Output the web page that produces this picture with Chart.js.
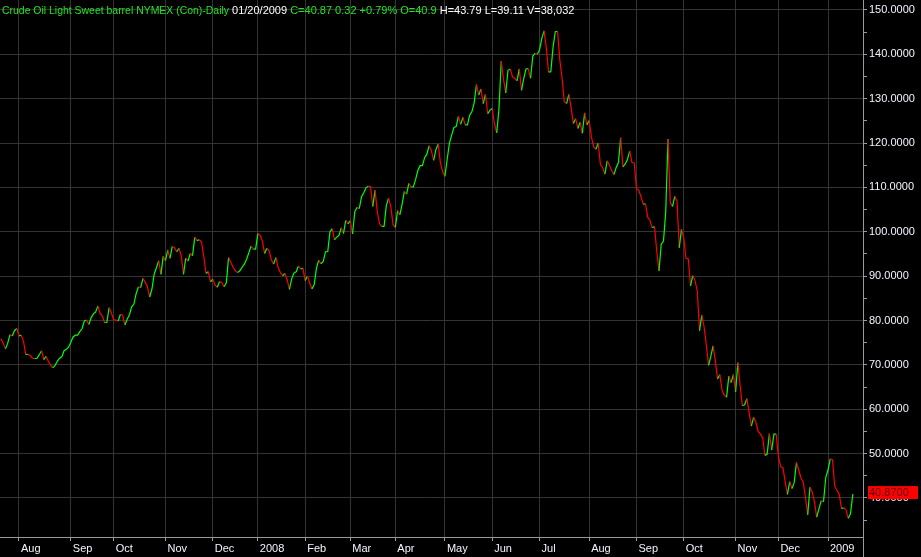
<!DOCTYPE html>
<html>
<head>
<meta charset="utf-8">
<script src="https://cdn.jsdelivr.net/npm/chart.js@4/dist/chart.umd.min.js"></script>
<style>
  html, body { margin: 0; padding: 0; background: #000; }
  #wrap { width: 921px; height: 557px; }
</style>
</head>
<body>
<div id="wrap"><canvas id="oilChart"></canvas></div>
<script>
// 月ごとの終値（取引日ごと）
const jul07 = [75.9, 74.9, 73.6, 74.9, 76.8, 76.5, 77.7, 78.2];
const aug07 = [76.5, 76.7, 75.3, 72.3, 72.4, 72.1, 71.5, 71.4, 71.5, 72.3, 73.2, 71.2, 71.9, 70.8, 70.0, 69.3, 69.9, 70.8, 71.5, 71.8, 73.2, 73.5, 74.0];
const sep07 = [75.1, 76.3, 76.7, 76.7, 77.5, 78.2, 79.9, 80.1, 79.1, 80.6, 81.5, 81.9, 83.3, 81.6, 81.0, 79.5, 79.6, 82.9, 81.7];
const oct07 = [80.2, 80.1, 79.9, 81.4, 81.2, 79.0, 80.3, 81.3, 83.1, 83.7, 86.1, 87.6, 87.4, 89.5, 88.6, 87.6, 85.3, 87.1, 90.5, 91.9, 93.5, 90.4, 94.5];
const nov07 = [93.5, 95.9, 94.0, 96.7, 96.4, 95.5, 96.3, 94.6, 90.4, 94.1, 93.4, 95.1, 94.6, 98.8, 98.0, 98.2, 97.7, 94.4, 90.6, 91.0, 88.7];
const dec07 = [89.3, 88.0, 87.5, 88.8, 88.5, 87.6, 88.5, 94.2, 93.1, 92.0, 91.2, 90.8, 91.2, 92.0, 92.7, 93.8, 95.3, 96.8, 96.1, 96.1];
const jan08 = [99.6, 99.2, 97.9, 95.1, 96.3, 95.7, 93.7, 92.7, 94.2, 91.9, 90.8, 90.1, 90.6, 89.2, 87.0, 89.4, 90.7, 91.0, 92.3, 91.6, 91.8];
const feb08 = [89.0, 90.0, 88.4, 87.1, 88.1, 91.8, 93.6, 92.8, 93.3, 95.5, 95.5, 100.0, 100.7, 98.2, 98.8, 99.2, 100.9, 99.6, 102.6, 101.8];
const mar08 = [102.5, 99.5, 104.5, 105.5, 105.2, 107.9, 108.8, 109.9, 110.3, 110.2, 105.7, 109.4, 104.5, 101.8, 101.2, 101.2, 105.9, 107.6, 105.6, 101.6];
const apr08 = [101.0, 104.8, 103.8, 106.2, 109.1, 108.5, 110.9, 110.1, 110.1, 111.8, 113.8, 114.9, 114.9, 116.7, 117.5, 119.4, 118.3, 116.1, 118.5, 119.8, 115.6, 113.5];
const may08 = [112.5, 116.3, 120.0, 121.8, 123.5, 123.7, 126.0, 124.2, 125.8, 124.1, 124.1, 126.3, 127.1, 129.1, 133.2, 130.8, 132.2, 128.9, 131.0, 126.6, 127.4];
const jun08 = [127.8, 124.3, 122.3, 127.8, 138.5, 134.4, 131.3, 136.4, 136.7, 134.9, 134.6, 134.0, 136.7, 131.9, 134.6, 136.7, 136.8, 134.6, 139.6, 140.2, 140.0];
const jul08 = [141.0, 143.6, 145.3, 141.4, 136.0, 136.1, 141.7, 145.1, 145.2, 138.7, 134.6, 129.3, 128.9, 131.0, 128.0, 124.4, 125.5, 123.3, 124.7, 122.2, 126.8, 124.1];
const aug08 = [125.1, 121.4, 119.2, 118.6, 120.0, 115.2, 114.5, 113.0, 116.0, 115.0, 113.8, 112.9, 114.5, 115.6, 121.2, 114.6, 115.3, 116.3, 118.2, 115.6, 115.5];
const sep08 = [109.7, 109.4, 107.9, 106.2, 106.3, 103.3, 102.6, 100.9, 101.2, 95.7, 91.2, 97.2, 97.9, 104.6, 120.9, 106.6, 105.7, 108.0, 106.9, 96.4, 100.6];
const oct08 = [98.5, 94.0, 93.9, 87.8, 90.1, 89.0, 86.6, 77.7, 81.2, 78.6, 74.5, 69.9, 71.9, 74.3, 70.9, 66.8, 67.8, 64.2, 63.2, 62.7, 67.5, 66.0, 67.8];
const nov08 = [63.9, 70.5, 65.3, 60.8, 61.0, 62.4, 59.3, 56.2, 58.2, 57.0, 55.0, 54.4, 53.6, 49.6, 49.9, 54.5, 50.8, 54.4, 54.4];
const dec08 = [49.3, 47.0, 46.8, 43.7, 40.8, 43.7, 42.1, 43.5, 48.0, 46.3, 44.5, 43.6, 40.1, 36.2, 42.4, 41.3, 39.1, 35.7, 37.6, 39.4, 39.1, 44.6];
const jan09 = [46.3, 48.8, 48.6, 42.6, 41.7, 40.8, 37.6, 37.8, 37.3, 35.4, 36.5, 40.87];

// 月のラベル（最初の7月は途中からなので表示しない）
const monthLabels = ['', 'Aug', 'Sep', 'Oct', 'Nov', 'Dec', '2008', 'Feb', 'Mar', 'Apr', 'May', 'Jun', 'Jul', 'Aug', 'Sep', 'Oct', 'Nov', 'Dec', '2009'];
const monthCloses = [jul07, aug07, sep07, oct07, nov07, dec07, jan08, feb08, mar08, apr08, may08, jun08, jul08, aug08, sep08, oct08, nov08, dec08, jan09];

// 右軸の目盛り
const yTicks = [35, 40, 45, 50, 55, 60, 65, 70, 75, 80, 85, 90, 95, 100, 105, 110, 115, 120, 125, 130, 135, 140, 145, 150];

// タイトル（色分け）
const titleParts = [
    ['Crude Oil Light Sweet barrel NYMEX (Con)-Daily', '#1ee81e'],
    [' 01/20/2009', '#ffffff'],
    [' C=40.87 0.32 +0.79% O=40.9', '#1ee81e'],
    [' H=43.79 L=39.11 V=38,032', '#ffffff']
];

const upColor = '#00ff00';
const downColor = '#ff0000';
const gridColor = '#343434';
const axisColor = '#9a9a9a';
const fontFamily = '"Liberation Sans", Arial, sans-serif';

// データを取引日の番号に並べる
const points = [];
const monthStarts = [];
const tickLabels = [];
monthCloses.forEach((arr, m) => {
    if (m > 0) {
        monthStarts.push(points.length);
        tickLabels.push(monthLabels[m]);
    }
    arr.forEach(v => points.push({ x: points.length, y: v }));
});
const lastClose = points[points.length - 1].y;

// タイトルと最終値のボックス
const overlay = {
    id: 'overlay',
    afterDraw(chart) {
        const ctx = chart.ctx;
        const area = chart.chartArea;
        ctx.save();
        ctx.strokeStyle = axisColor;
        ctx.lineWidth = 1;
        ctx.beginPath();
        ctx.moveTo(Math.round(area.right) + 0.5, area.bottom);
        ctx.lineTo(Math.round(area.right) + 0.5, chart.height);
        ctx.stroke();

        const py = chart.scales.y.getPixelForValue(lastClose);
        ctx.fillStyle = '#ff0000';
        ctx.fillRect(area.right + 5, py - 8, 50, 13);
        ctx.font = '11px ' + fontFamily;
        ctx.fillStyle = '#5a0000';
        ctx.textBaseline = 'middle';
        ctx.fillText(lastClose.toFixed(4), area.right + 6, py - 1.5);

        // 最初の部分は元の字幅に合わせて少し詰める
        ctx.textBaseline = 'alphabetic';
        let x = 2;
        titleParts.forEach(([text, color], i) => {
            const w = ctx.measureText(text).width;
            const fit = i === 0 ? Math.min(w, 227) : w;
            ctx.fillStyle = color;
            ctx.fillText(text, x, 14, fit);
            x += fit;
        });
        ctx.restore();
    }
};

const config = {
    type: 'line',
    data: {
        datasets: [{
            data: points,
            borderColor: upColor,
            borderWidth: 1.2,
            pointRadius: 0,
            tension: 0,
            segment: {
                borderColor: c => c.p1.parsed.y < c.p0.parsed.y ? downColor : upColor
            }
        }]
    },
    options: {
        animation: false,
        responsive: true,
        maintainAspectRatio: false,
        layout: { padding: 0 },
        plugins: {
            legend: { display: false },
            tooltip: { enabled: false },
            title: { display: false }
        },
        scales: {
            x: {
                type: 'linear',
                position: 'bottom',
                bounds: 'data',
                min: -0.43,
                max: 382.53,
                afterBuildTicks: s => { s.ticks = monthStarts.map(v => ({ value: v })); },
                afterFit: s => { s.height = 20; s.paddingLeft = 0; s.paddingRight = 0; },
                grid: { color: gridColor, tickColor: axisColor, tickLength: 4 },
                border: { color: axisColor },
                ticks: {
                    autoSkip: false,
                    maxRotation: 0,
                    align: 'start',
                    labelOffset: 2,
                    padding: 1,
                    color: '#f4f4ff',
                    font: { family: fontFamily, size: 11 },
                    callback: (v, i) => tickLabels[i]
                }
            },
            y: {
                type: 'linear',
                position: 'right',
                bounds: 'data',
                min: 31.2,
                max: 152.25,
                afterBuildTicks: s => { s.ticks = yTicks.map(v => ({ value: v })); },
                afterFit: s => { s.width = 58; s.paddingTop = 0; s.paddingBottom = 0; },
                grid: {
                    color: c => c.tick && c.tick.value % 10 === 0 ? gridColor : 'rgba(0,0,0,0)',
                    tickColor: axisColor,
                    tickLength: 4
                },
                border: { color: axisColor },
                ticks: {
                    padding: 2,
                    color: '#f4f4ff',
                    font: { family: fontFamily, size: 11 },
                    callback: v => v % 10 === 0 ? v.toFixed(4) : ''
                }
            }
        }
    },
    plugins: [overlay]
};

// グラフを作成
const oilChart = new Chart(document.getElementById('oilChart'), config);
</script>
</body>
</html>
